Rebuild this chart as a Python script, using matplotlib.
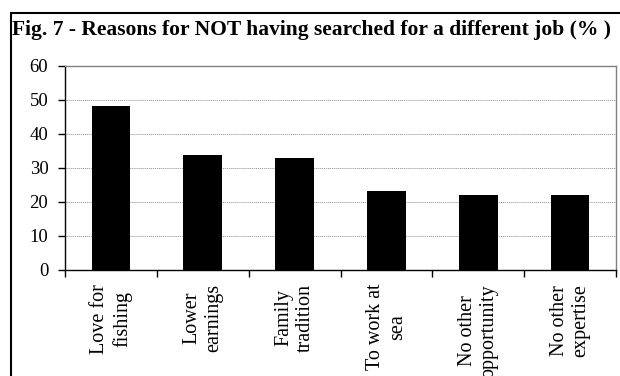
import matplotlib.pyplot as plt
from matplotlib.patches import Rectangle
from matplotlib.ticker import FixedLocator

plt.rcParams['font.family'] = ['Liberation Serif', 'DejaVu Serif']

# survey shares (%) per reason
reasons = ["Love for\nfishing", "Lower\nearnings", "Family\ntradition",
           "To work at\nsea", "No other\nopportunity", "No other\nexpertise"]
shares = [48.1, 33.7, 33.0, 23.2, 22.1, 22.1]
y_ticks = [0, 10, 20, 30, 40, 50, 60]

fig = plt.figure(figsize=(6.2, 3.76), dpi=100)
ax = fig.add_axes([65 / 620, 1 - 270 / 376, 551 / 620, 204 / 376])

pos = list(range(len(reasons)))
ax.bar(pos, shares, width=0.42, color='black', zorder=3)

ax.set_xlim(-0.5, len(reasons) - 0.5)
ax.set_ylim(0, 60)
ax.set_yticks(y_ticks)
ax.yaxis.grid(True, linestyle=(0, (1, 1)), color='#909090', linewidth=0.7, zorder=0)

# category labels centred, boundary ticks between them
ax.set_xticks(pos)
ax.set_xticklabels(reasons, rotation=90, ha='center', va='top',
                   multialignment='center', fontsize=14.5, linespacing=1.2)
ax.xaxis.set_minor_locator(FixedLocator([p - 0.5 for p in range(len(reasons) + 1)]))
ax.tick_params(axis='x', which='major', length=0, pad=10)
ax.tick_params(axis='x', which='minor', length=5, width=1, direction='out')
ax.tick_params(axis='y', length=5, width=1, direction='out', pad=7, labelsize=13.5)

for side in ('top', 'right'):
    ax.spines[side].set_color('#808080')
    ax.spines[side].set_linewidth(1)
for side in ('left', 'bottom'):
    ax.spines[side].set_color('black')
    ax.spines[side].set_linewidth(1)

fig.text(312 / 620, 1 - 30 / 376,
         "Fig. 7 - Reasons for NOT having searched for a different job (% )",
         ha='center', va='center', fontsize=15.5, fontweight='bold')

# outer frame, open towards the right and bottom edges
fig.patches.append(Rectangle((11 / 620, -0.1), 1.0, 1.1 - 13 / 376,
                             transform=fig.transFigure, fill=False,
                             edgecolor='black', linewidth=1.5))

fig.savefig("out.png", dpi=100)
